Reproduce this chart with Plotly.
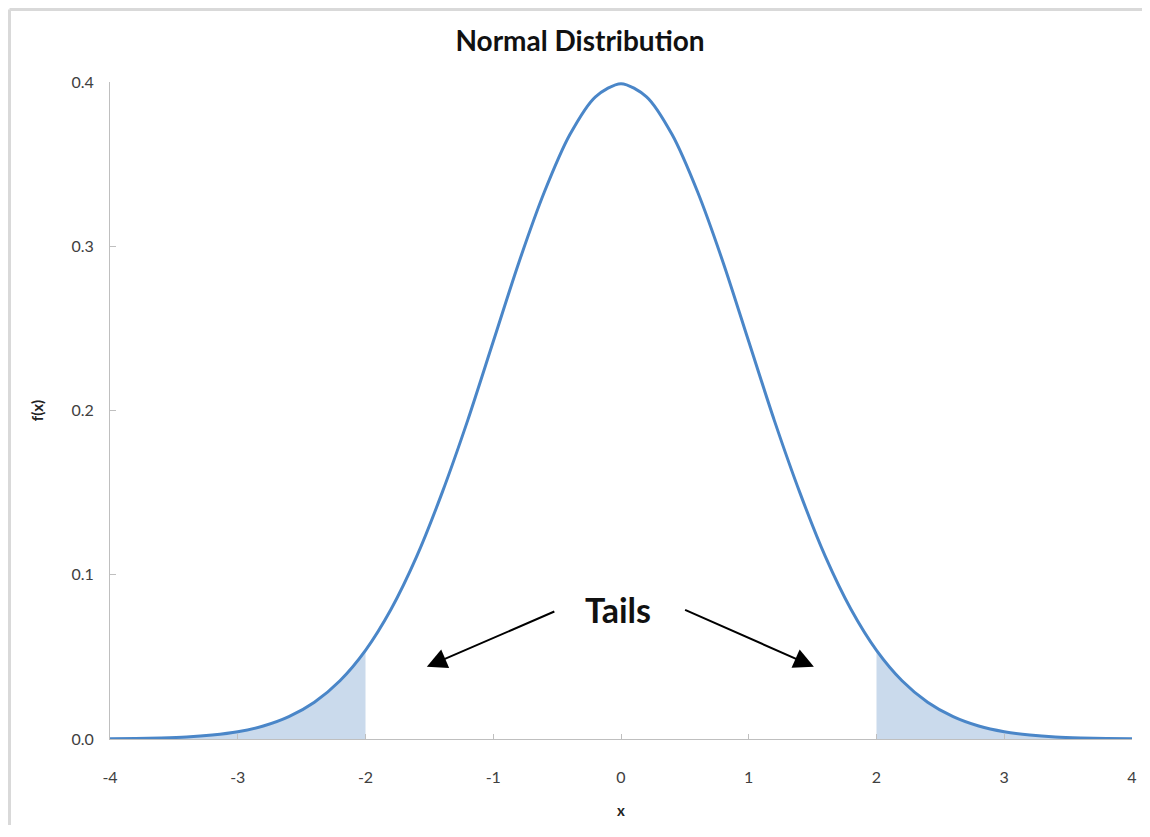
import plotly.graph_objects as go

# Values
x_vals = [-4.0, -3.8, -3.6, -3.4, -3.2, -3.0, -2.8, -2.6, -2.4, -2.2, -2.0,
          -1.8, -1.6, -1.4, -1.2, -1.0, -0.8, -0.6, -0.4, -0.2, 0.0,
          0.2, 0.4, 0.6, 0.8, 1.0, 1.2, 1.4, 1.6, 1.8, 2.0,
          2.2, 2.4, 2.6, 2.8, 3.0, 3.2, 3.4, 3.6, 3.8, 4.0]
fx_vals = [0.0001, 0.0003, 0.0006, 0.0012, 0.0024, 0.0044, 0.0079, 0.0136, 0.0224, 0.0355, 0.054,
           0.079, 0.111, 0.150, 0.194, 0.242, 0.290, 0.333, 0.368, 0.391, 0.399,
           0.391, 0.368, 0.333, 0.290, 0.242, 0.194, 0.150, 0.111, 0.079, 0.054,
           0.0355, 0.0224, 0.0136, 0.0079, 0.0044, 0.0024, 0.0012, 0.0006, 0.0003, 0.0001]
tail_cut = 2.0
x_ticks = [-4, -3, -2, -1, 0, 1, 2, 3, 4]
y_ticks = [0.0, 0.1, 0.2, 0.3, 0.4]

LINE = "#4a86c8"
FILL = "rgba(184,206,230,0.75)"
FONT = "Lato"

left_x = [x for x in x_vals if x <= -tail_cut]
left_y = [y for x, y in zip(x_vals, fx_vals) if x <= -tail_cut]
right_x = [x for x in x_vals if x >= tail_cut]
right_y = [y for x, y in zip(x_vals, fx_vals) if x >= tail_cut]

fig = go.Figure()
for tx, ty in ((left_x, left_y), (right_x, right_y)):
    fig.add_trace(go.Scatter(x=tx, y=ty, mode="lines", fill="tozeroy",
                             fillcolor=FILL, line=dict(width=0, shape="spline"),
                             hoverinfo="skip", showlegend=False))
fig.add_trace(go.Scatter(x=x_vals, y=fx_vals, mode="lines",
                         line=dict(color=LINE, width=3, shape="spline", smoothing=0.8),
                         showlegend=False))

# page has an 8px body margin; figure sized so the plot area lands where the reference has it
OFF = 8
W, H = 1134, 817
ml, mr, mt, mb = 110 - OFF, 10, 82 - OFF, 86
pw, ph = W - ml - mr, H - mt - mb

def px_x(p):  # p in page pixels
    return (p - OFF - ml) / pw

def px_y(p):
    return (H - mb - (p - OFF)) / ph

fig.update_layout(
    width=W, height=H,
    margin=dict(l=ml, r=mr, t=mt, b=mb, autoexpand=False),
    paper_bgcolor="white", plot_bgcolor="white",
    font=dict(family=FONT, color="#404040", size=16),
    title=dict(text="<b>Normal Distribution</b>", x=px_x(580), xref="paper",
               xanchor="center", y=1 - (41 - OFF) / H, yanchor="middle",
               font=dict(family=FONT, size=28, color="#111111")),
    xaxis=dict(range=[-4, 4], tickvals=x_ticks, ticktext=[str(t) for t in x_ticks],
               automargin=False,
               showgrid=False, zeroline=False, showline=True, linecolor="#bfbfbf",
               linewidth=1, ticks="inside", ticklen=5, tickcolor="#bfbfbf",
               ticklabelstandoff=24, tickfont=dict(size=16, color="#404040"),
               title=dict(text="<b>x</b>", font=dict(size=15, color="#222222"), standoff=20)),
    yaxis=dict(range=[0, 0.4], tickvals=y_ticks, tickformat=".1f",
               automargin=False,
               showgrid=False, zeroline=False, showline=True, linecolor="#bfbfbf",
               linewidth=1, ticks="inside", ticklen=6, tickcolor="#bfbfbf",
               ticklabelstandoff=12, tickfont=dict(size=16, color="#404040"),
               title=dict(text="<b>f(x)</b>", font=dict(size=15, color="#222222"), standoff=24)),
    shapes=[
        dict(type="line", xref="paper", yref="paper", x0=px_x(9.5), x1=px_x(9.5),
             y0=px_y(H + 30), y1=px_y(9.5), line=dict(color="#d9d9d9", width=3)),
        dict(type="line", xref="paper", yref="paper", x0=px_x(9.5), x1=px_x(W + 30),
             y0=px_y(9.5), y1=px_y(9.5), line=dict(color="#d9d9d9", width=3)),
    ],
    annotations=[
        dict(x=-0.02, y=0.079, xref="x", yref="y", text="<b>Tails</b>", showarrow=False,
             font=dict(family=FONT, size=34, color="#111111")),
        dict(x=-1.52, y=0.044, ax=-0.51, ay=0.078, xref="x", yref="y", axref="x", ayref="y",
             text="", showarrow=True, arrowhead=2, arrowsize=2.0, arrowwidth=2,
             arrowcolor="#000000"),
        dict(x=1.51, y=0.044, ax=0.49, ay=0.079, xref="x", yref="y", axref="x", ayref="y",
             text="", showarrow=True, arrowhead=2, arrowsize=2.0, arrowwidth=2,
             arrowcolor="#000000"),
    ],
)

fig.write_html("out.html")
